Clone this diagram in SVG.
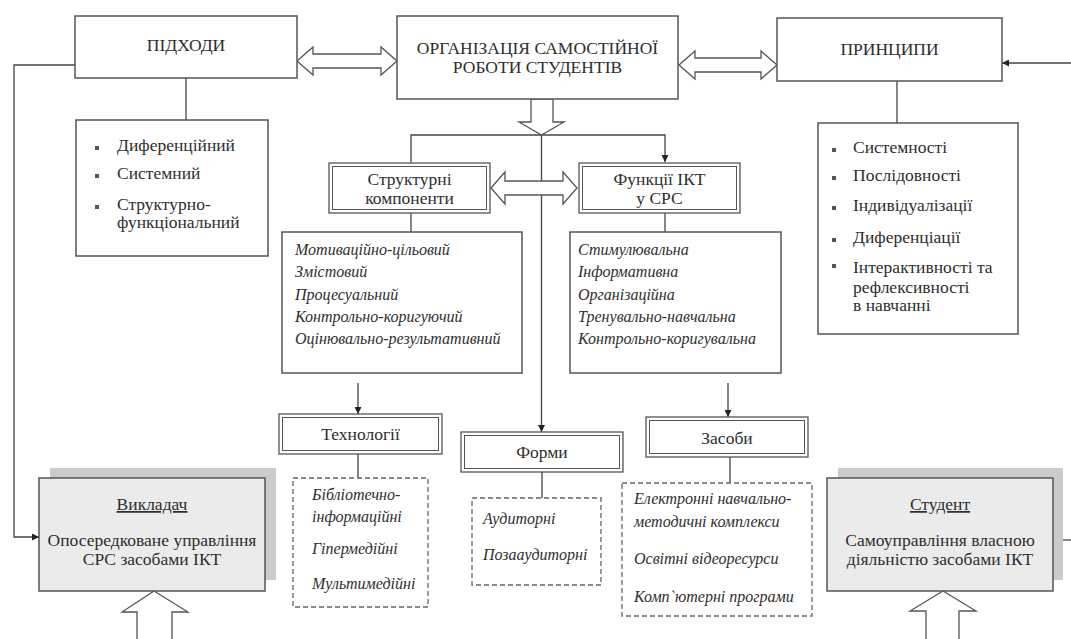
<svg xmlns="http://www.w3.org/2000/svg" width="1071" height="639" viewBox="0 0 1071 639">
<defs>
<marker id="ah" viewBox="0 0 10 10" refX="10" refY="5" markerWidth="7" markerHeight="7" markerUnits="userSpaceOnUse" orient="auto"><path d="M0,0 L10,5 L0,10 z" fill="#222"/></marker>
<style>
.box{fill:#fff;stroke:#555;stroke-width:1.5}
.dbo{fill:#fff;stroke:#555;stroke-width:1.3}
.dbi{fill:none;stroke:#555;stroke-width:1}
.dash{fill:#fff;stroke:#666;stroke-width:1.3;stroke-dasharray:5,3}
.gbox{fill:#ebebeb;stroke:#555;stroke-width:1.5}
.shadow{fill:#cbcbcb}
.ln{stroke:#444;stroke-width:1.3;fill:none}
.hol{fill:#fff;stroke:#555;stroke-width:1.3}
text{font-family:"Liberation Serif","Times New Roman",serif;font-size:17.5px;fill:#2e2e2e}
.c{text-anchor:middle}
.it{font-style:italic;font-size:16px}
.bul{fill:#555}
</style>
</defs>
<g id="connectors">
<polyline class="ln" points="75,65 14,65 14,537 39,537" marker-start="url(#ah)" marker-end="url(#ah)"/>
<line class="ln" x1="1071" y1="63" x2="1002" y2="63" marker-end="url(#ah)"/>
<line class="ln" x1="1071" y1="540" x2="1053" y2="540" marker-end="url(#ah)"/>
<line class="ln" x1="186" y1="78" x2="186" y2="120"/>
<line class="ln" x1="897" y1="81" x2="897" y2="123"/>
<polyline class="ln" points="411,162 411,135 665,135 665,162" marker-start="url(#ah)" marker-end="url(#ah)"/>
<line class="ln" x1="541.5" y1="135" x2="541.5" y2="432" marker-end="url(#ah)"/>
<line class="ln" x1="411" y1="213" x2="411" y2="232"/>
<line class="ln" x1="665" y1="213" x2="665" y2="232"/>
<line class="ln" x1="358" y1="383" x2="358" y2="414" marker-end="url(#ah)"/>
<line class="ln" x1="728" y1="383" x2="728" y2="417" marker-end="url(#ah)"/>
<line class="ln" x1="358" y1="454" x2="358" y2="478"/>
<line class="ln" x1="542" y1="472" x2="542" y2="498"/>
<line class="ln" x1="730" y1="457" x2="730" y2="483"/>
<polygon class="hol" points="297,61 313,47 313,54 381,54 381,47 397,61 381,75 381,68 313,68 313,75"/>
<polygon class="hol" points="679,65 695,51 695,58 761,58 761,51 777,65 761,79 761,72 695,72 695,79"/>
<polygon class="hol" points="491,188 505,172 505,181 563,181 563,172 577,188 563,204 563,195 505,195 505,204"/>
<polygon class="hol" points="531,99 553,99 553,122 564,122 541.5,135 519,122 531,122"/>
<polygon class="hol" points="154,591 188,612 172,612 172,640 137,640 137,612 122,612"/>
<polygon class="hol" points="943,591 976,611 959,611 959,640 926,640 926,611 910,611"/>
</g>
<g id="pidhody">
<rect class="box" x="75" y="16" width="222" height="62"/>
<text class="c" x="186" y="51">ПІДХОДИ</text>
</g>
<g id="org">
<rect class="box" x="397" y="16" width="281" height="83"/>
<text class="c" x="537.5" y="54">ОРГАНІЗАЦІЯ САМОСТІЙНОЇ</text>
<text class="c" x="537.5" y="73">РОБОТИ СТУДЕНТІВ</text>
</g>
<g id="pryntsypy">
<rect class="box" x="777" y="18" width="225" height="63"/>
<text class="c" x="889.5" y="55">ПРИНЦИПИ</text>
</g>
<g id="pidhody-list">
<rect class="box" x="76" y="120" width="192" height="136"/>
<rect class="bul" x="95" y="146" width="4" height="4"/>
<text x="117" y="151">Диференційний</text>
<rect class="bul" x="95" y="174" width="4" height="4"/>
<text x="117" y="179">Системний</text>
<rect class="bul" x="95" y="205" width="4" height="4"/>
<text x="117" y="210">Структурно-</text>
<text x="117" y="228">функціональний</text>
</g>
<g id="pryntsypy-list">
<rect class="box" x="818" y="123" width="200" height="211"/>
<rect class="bul" x="832" y="148" width="4" height="4"/>
<text x="853" y="153">Системності</text>
<rect class="bul" x="832" y="176" width="4" height="4"/>
<text x="853" y="181">Послідовності</text>
<rect class="bul" x="832" y="206" width="4" height="4"/>
<text x="853" y="211">Індивідуалізації</text>
<rect class="bul" x="832" y="238" width="4" height="4"/>
<text x="853" y="243">Диференціації</text>
<rect class="bul" x="832" y="264" width="4" height="4"/>
<text x="853" y="273">Інтерактивності та</text>
<text x="853" y="293">рефлексивності</text>
<text x="853" y="311">в навчанні</text>
</g>
<g id="struct">
<rect class="dbo" x="329" y="163" width="161" height="50"/>
<rect class="dbi" x="332.5" y="166.5" width="154" height="43"/>
<text class="c" x="409.5" y="185">Структурні</text>
<text class="c" x="409.5" y="204">компоненти</text>
</g>
<g id="funktsii">
<rect class="dbo" x="579" y="163" width="161" height="50"/>
<rect class="dbi" x="582.5" y="166.5" width="154" height="43"/>
<text class="c" x="659.5" y="185">Функції ІКТ</text>
<text class="c" x="659.5" y="204">у СРС</text>
</g>
<g id="struct-list">
<rect class="box" x="282" y="232" width="240" height="141"/>
<text class="it" x="295" y="255">Мотиваційно-цільовий</text>
<text class="it" x="295" y="277">Змістовий</text>
<text class="it" x="295" y="300">Процесуальний</text>
<text class="it" x="295" y="322">Контрольно-коригуючий</text>
<text class="it" x="295" y="344">Оцінювально-результативний</text>
</g>
<g id="funktsii-list">
<rect class="box" x="570" y="232" width="211" height="141"/>
<text class="it" x="578" y="255">Стимулювальна</text>
<text class="it" x="578" y="277">Інформативна</text>
<text class="it" x="578" y="300">Організаційна</text>
<text class="it" x="578" y="322">Тренувально-навчальна</text>
<text class="it" x="578" y="344">Контрольно-коригувальна</text>
</g>
<g id="tekhnolohii">
<rect class="dbo" x="279" y="414" width="163" height="40"/>
<rect class="dbi" x="282.5" y="417.5" width="156" height="33"/>
<text class="c" x="360.5" y="440">Технології</text>
</g>
<g id="formy">
<rect class="dbo" x="461" y="432" width="162" height="40"/>
<rect class="dbi" x="464.5" y="435.5" width="155" height="33"/>
<text class="c" x="542" y="458">Форми</text>
</g>
<g id="zasoby">
<rect class="dbo" x="646" y="417" width="162" height="40"/>
<rect class="dbi" x="649.5" y="420.5" width="155" height="33"/>
<text class="c" x="727" y="444">Засоби</text>
</g>
<g id="tekhnolohii-list">
<rect class="dash" x="293" y="478" width="135" height="129"/>
<text class="it" x="312" y="500">Бібліотечно-</text>
<text class="it" x="312" y="522">інформаційні</text>
<text class="it" x="312" y="554">Гіпермедійні</text>
<text class="it" x="312" y="589">Мультимедійні</text>
</g>
<g id="formy-list">
<rect class="dash" x="472" y="498" width="129" height="87"/>
<text class="it" x="483" y="524">Аудиторні</text>
<text class="it" x="483" y="560">Позааудиторні</text>
</g>
<g id="zasoby-list">
<rect class="dash" x="622" y="483" width="190" height="133"/>
<text class="it" x="634" y="504">Електронні навчально-</text>
<text class="it" x="634" y="527">методичні комплекси</text>
<text class="it" x="634" y="564">Освітні відеоресурси</text>
<text class="it" x="634" y="602">Комп`ютерні програми</text>
</g>
<g id="vykladach">
<rect class="shadow" x="50" y="468" width="226" height="112"/>
<rect class="gbox" x="39" y="478" width="226" height="113"/>
<text class="c" x="152" y="510" text-decoration="underline">Викладач</text>
<text class="c" x="152" y="546">Опосередковане управління</text>
<text class="c" x="152" y="565">СРС засобами ІКТ</text>
</g>
<g id="student">
<rect class="shadow" x="838" y="468" width="225" height="112"/>
<rect class="gbox" x="827" y="478" width="226" height="113"/>
<text class="c" x="940" y="510" text-decoration="underline">Студент</text>
<text class="c" x="940" y="546">Самоуправління власною</text>
<text class="c" x="940" y="565">діяльністю засобами ІКТ</text>
</g>
</svg>
